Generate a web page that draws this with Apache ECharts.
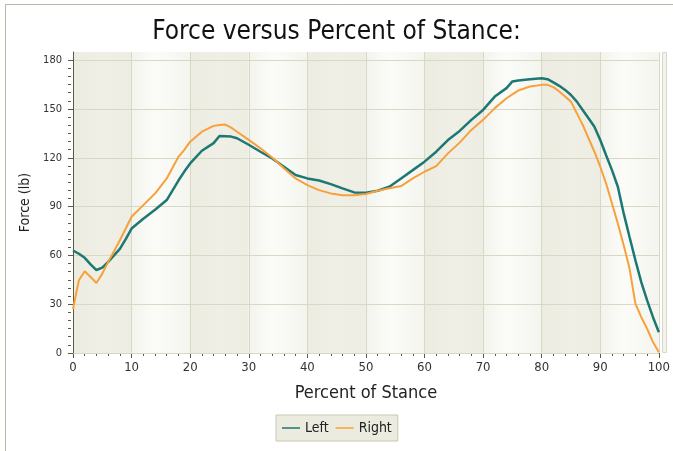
<!DOCTYPE html>
<html>
<head>
<meta charset="utf-8">
<script src="https://cdn.jsdelivr.net/npm/echarts@6/dist/echarts.min.js"></script>
<style>
  html, body { margin: 0; padding: 0; background: #ffffff; }
  #chart { width: 673px; height: 451px; }
</style>
</head>
<body>
<div id="chart"></div>
<script>
const FONT = '"DejaVu Sans Condensed", "Noto Sans", sans-serif';

const pct = [0,1,2,3,4,5,6,7,8,9,10,12,14,16,18,19,20,22,24,25,26,27,28,30,32,34,36,38,40,42,44,46,48,50,52,54,56,58,60,62,64,66,68,70,72,74,75,76,78,80,81,82,83,84,85,86,87,88,89,90,91,92,93,94,95,96,97,98,99,100];

const leftForce = [63,61,58.5,54.5,51,52.5,56,60,64,70,76.5,82.5,88,94,106,111.5,116.5,124.3,129,133.4,133.2,133,132,128,123.7,119.6,114.5,109.4,107.3,106,103.8,101.2,98.7,98.5,99.7,102.2,107.3,112.4,117.6,123.7,130.9,136.5,143.3,149.4,157.6,162.8,166.9,167.5,168.3,168.9,168.3,166.3,164.2,161.7,158.6,154.5,149.4,144.3,139.1,130.9,121.5,112.4,102.2,85.8,71.3,57,43.6,32.3,22,12.8];

const rightForce = [27,44.7,50.2,46.7,43,48.8,56,62.5,69.3,76.5,83.7,90.9,98,107.3,120.6,124.8,129.9,136,139.6,140.2,140.4,138.5,136,131,125.8,120.2,113.5,107.3,103.2,100.1,98.1,97,97,97.7,99.7,101.2,102.6,107.3,111.4,114.9,122.7,129.3,137.1,143.3,150.5,156.6,159,161.3,163.8,164.8,164.8,163.4,160.7,157.6,154.5,147.4,140.2,132,123.7,114.5,104.2,91.9,79.6,66.2,51.9,30.3,22,14.9,6.7,0.5];

const yTickValues = [0,30,60,90,120,150,180];
const seriesNames = ['Left','Right'];
const seriesColors = ['#1d7873', '#f7a03c'];
const titleText = 'Force versus Percent of Stance:';
const xName = 'Percent of Stance';
const yName = 'Force (lb)';

const yMinorValues = [];
for (let v = 0; v <= 180; v += 5) yMinorValues.push(v);

const toPairs = (xs, ys) => xs.map((x, i) => [x, ys[i]]);

const chart = echarts.init(document.getElementById('chart'), null, { renderer: 'canvas' });

const axisColor = '#5a5a48';
const gridLineColor = '#d9d8c4';

const darkBand = new echarts.graphic.LinearGradient(0, 0, 1, 0, [
  { offset: 0, color: '#edece1' },
  { offset: 0.5, color: '#f0efe6' },
  { offset: 1, color: '#eeede3' }
]);
const lightBand = new echarts.graphic.LinearGradient(0, 0, 1, 0, [
  { offset: 0, color: '#f4f4ee' },
  { offset: 0.4, color: '#fbfbf8' },
  { offset: 1, color: '#f5f5ef' }
]);

chart.setOption({
  animation: false,
  backgroundColor: '#ffffff',
  textStyle: { fontFamily: FONT },
  graphic: [{
    type: 'rect',
    shape: { x: 5.5, y: 4.5, width: 720, height: 520 },
    style: { fill: null, stroke: '#b8b8a2', lineWidth: 1 },
    silent: true,
    z: -1
  }, {
    type: 'rect',
    shape: { x: 662.5, y: 52.5, width: 4, height: 300 },
    style: { fill: '#f3f3ed', stroke: '#d9d8c4', lineWidth: 1 },
    silent: true,
    z: 0
  }],
  title: {
    text: titleText,
    left: 'center',
    top: 14,
    textStyle: { fontFamily: FONT, fontSize: 26, fontWeight: 'normal', color: '#111111' }
  },
  legend: {
    data: seriesNames.map((n) => ({ name: n, icon: 'rect' })),
    left: 276,
    top: 415,
    orient: 'horizontal',
    backgroundColor: '#ecebdf',
    borderColor: '#c9c8b4',
    borderWidth: 1,
    padding: [6, 6],
    itemGap: 7,
    itemWidth: 18,
    itemHeight: 1.5,
    textStyle: { fontFamily: FONT, fontSize: 14, color: '#222222' }
  },
  grid: { left: 73, right: 10, top: 52, bottom: 98, containLabel: false },
  xAxis: [{
    type: 'value',
    z: 1,
    min: 0,
    max: 100,
    interval: 10,
    name: xName,
    nameLocation: 'middle',
    nameGap: 31,
    nameTextStyle: { fontFamily: FONT, fontSize: 18, color: '#222222' },
    axisLine: { show: true, lineStyle: { color: axisColor, width: 1 } },
    axisTick: { show: true, length: 5, lineStyle: { color: axisColor } },
    minorTick: { show: true, splitNumber: 5, length: 3, lineStyle: { color: axisColor } },
    axisLabel: { fontFamily: FONT, fontSize: 13, color: '#333333', margin: 8 },
    splitLine: { show: true, lineStyle: { color: gridLineColor, width: 1 } },
    splitArea: { show: true, areaStyle: { color: [darkBand, lightBand] } }
  }],
  yAxis: [{
    type: 'value',
    z: 2,
    min: 0,
    max: 185,
    interval: 30,
    offset: 2,
    name: yName,
    nameLocation: 'middle',
    nameGap: 31,
    nameTextStyle: { fontFamily: FONT, fontSize: 14, color: '#222222' },
    axisLine: { show: true, lineStyle: { color: axisColor, width: 1 } },
    axisTick: { show: true, length: 5, customValues: yTickValues, lineStyle: { color: axisColor } },
    axisLabel: { fontFamily: FONT, fontSize: 11, color: '#333333', margin: 9, customValues: yTickValues },
    splitLine: { show: true, lineStyle: { color: gridLineColor, width: 1 } }
  }, {
    type: 'value',
    z: 2,
    position: 'left',
    min: 0,
    max: 185,
    offset: 2,
    axisLine: { show: false },
    axisTick: { show: true, length: 3, customValues: yMinorValues, lineStyle: { color: axisColor } },
    axisLabel: { show: false },
    splitLine: { show: false }
  }],
  series: [{
    name: seriesNames[0],
    type: 'line',
    z: 3,
    data: toPairs(pct, leftForce),
    showSymbol: false,
    symbol: 'none',
    smooth: false,
    lineStyle: { color: seriesColors[0], width: 2.5 },
    itemStyle: { color: seriesColors[0] }
  }, {
    name: seriesNames[1],
    type: 'line',
    z: 3,
    data: toPairs(pct, rightForce),
    showSymbol: false,
    symbol: 'none',
    smooth: false,
    lineStyle: { color: seriesColors[1], width: 2 },
    itemStyle: { color: seriesColors[1] }
  }]
});
</script>
</body>
</html>
